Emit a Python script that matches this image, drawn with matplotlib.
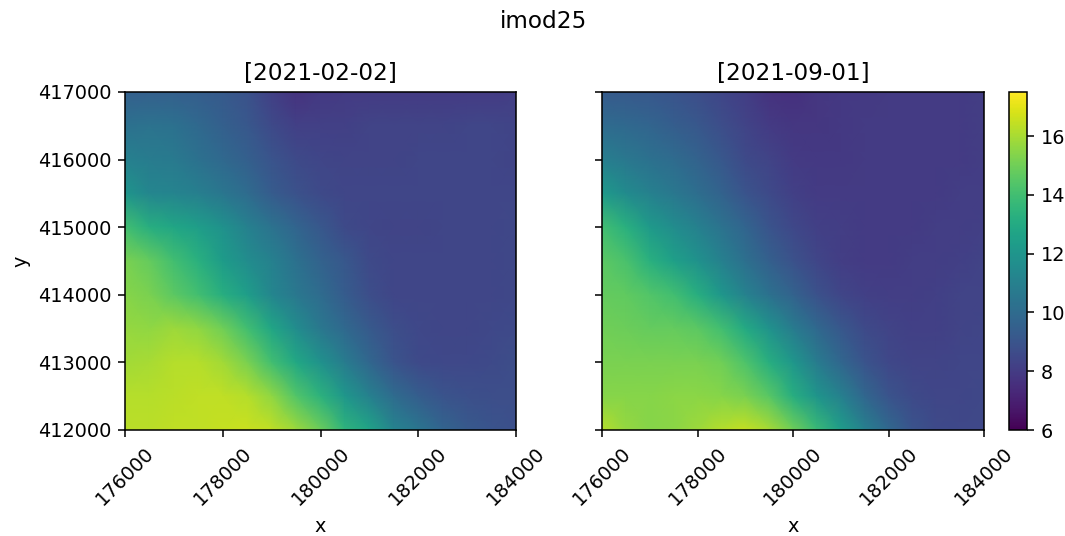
import numpy as np
from matplotlib import pyplot as plt

title = 'imod25'
dates = ['[2021-02-02]', '[2021-09-01]']
x = [176000, 176500, 177000, 177500, 178000, 178500, 179000, 179500, 180000,
     180500, 181000, 181500, 182000, 182500, 183000, 183500, 184000]
y = [417000, 416500, 416000, 415500, 415000, 414500, 414000, 413500, 413000, 412500, 412000]
xticks = [176000, 178000, 180000, 182000, 184000]
yticks = [412000, 413000, 414000, 415000, 416000, 417000]
cticks = [6, 8, 10, 12, 14, 16]

# values, top row first
left = [
    [9.5, 9.5, 9.5, 9.4, 9.2, 8.9, 8.2, 7.7, 7.9, 8.0, 8.0, 8.0, 8.0, 8.0, 8.0, 8.0, 8.1],
    [10.3, 10.4, 10.3, 9.9, 9.5, 9.1, 8.6, 8.2, 8.2, 8.2, 8.3, 8.3, 8.3, 8.3, 8.4, 8.4, 8.3],
    [11.0, 10.8, 10.7, 10.3, 9.9, 9.5, 9.0, 8.6, 8.4, 8.3, 8.3, 8.3, 8.4, 8.4, 8.4, 8.4, 8.3],
    [12.0, 11.3, 11.2, 10.9, 10.5, 10.0, 9.3, 8.9, 8.6, 8.4, 8.4, 8.4, 8.4, 8.4, 8.4, 8.4, 8.4],
    [14.0, 13.2, 12.8, 12.4, 11.8, 11.0, 10.4, 9.7, 9.1, 8.6, 8.4, 8.3, 8.3, 8.4, 8.4, 8.4, 8.5],
    [15.2, 14.8, 14.0, 13.3, 12.3, 11.6, 11.0, 10.3, 9.6, 9.1, 8.6, 8.4, 8.4, 8.4, 8.4, 8.4, 8.5],
    [15.4, 15.2, 14.6, 14.0, 13.2, 12.4, 11.3, 10.6, 10.0, 9.3, 8.7, 8.4, 8.4, 8.4, 8.4, 8.4, 8.5],
    [15.7, 15.6, 15.8, 15.6, 15.0, 14.0, 12.8, 11.6, 10.6, 9.9, 9.2, 8.7, 8.5, 8.4, 8.4, 8.5, 8.6],
    [15.9, 16.0, 16.2, 16.2, 15.9, 15.2, 14.0, 12.9, 11.8, 10.8, 9.8, 9.0, 8.6, 8.5, 8.5, 8.6, 8.7],
    [16.2, 16.2, 16.3, 16.4, 16.4, 16.2, 15.6, 14.4, 13.4, 12.1, 11.0, 10.0, 9.4, 9.0, 8.8, 8.7, 8.7],
    [16.3, 16.3, 16.4, 16.4, 16.5, 16.6, 16.4, 15.8, 14.9, 13.5, 12.7, 11.2, 10.5, 9.7, 9.2, 9.0, 8.8],
]
right = [
    [9.3, 9.2, 9.1, 9.0, 8.7, 8.4, 8.1, 7.7, 7.6, 7.8, 7.9, 7.9, 8.0, 8.0, 8.0, 8.0, 8.1],
    [10.0, 9.9, 9.7, 9.4, 9.1, 8.7, 8.3, 8.0, 7.8, 7.8, 7.9, 8.0, 8.0, 8.0, 8.0, 8.0, 8.1],
    [10.9, 10.6, 10.3, 10.0, 9.6, 9.1, 8.6, 8.3, 8.0, 7.9, 7.9, 8.0, 8.0, 8.0, 8.0, 8.0, 8.1],
    [12.2, 11.5, 11.0, 10.6, 10.1, 9.6, 9.0, 8.6, 8.2, 8.0, 8.0, 8.0, 8.0, 8.0, 8.0, 8.1, 8.1],
    [14.0, 13.3, 12.2, 11.6, 11.0, 10.4, 9.7, 9.0, 8.5, 8.2, 8.1, 8.0, 8.0, 8.0, 8.1, 8.1, 8.2],
    [14.6, 14.2, 13.3, 12.5, 11.8, 11.0, 10.2, 9.5, 8.9, 8.4, 8.1, 8.0, 8.0, 8.1, 8.1, 8.2, 8.3],
    [14.8, 14.7, 14.4, 14.0, 13.2, 12.1, 11.1, 10.3, 9.6, 8.9, 8.4, 8.2, 8.1, 8.1, 8.2, 8.3, 8.3],
    [15.0, 14.9, 14.8, 14.8, 14.6, 14.0, 13.0, 11.9, 10.8, 9.9, 9.1, 8.6, 8.3, 8.2, 8.2, 8.3, 8.4],
    [15.2, 15.2, 15.2, 15.2, 15.2, 15.0, 14.3, 13.2, 12.1, 10.8, 9.8, 9.0, 8.5, 8.3, 8.3, 8.4, 8.4],
    [15.4, 15.4, 15.4, 15.5, 15.5, 15.4, 15.2, 14.5, 13.2, 12.0, 11.0, 9.8, 9.0, 8.6, 8.4, 8.4, 8.5],
    [16.2, 15.7, 15.4, 15.5, 15.8, 16.2, 16.5, 16.0, 15.0, 13.8, 12.4, 11.0, 9.9, 9.0, 8.6, 8.5, 8.5],
]

dpi = 139
fig = plt.figure(figsize=(1065 / dpi, 536 / dpi), dpi=dpi)
ax1 = fig.add_axes([125 / 1065, 1 - 430 / 536, 391 / 1065, 338 / 536])
ax2 = fig.add_axes([602 / 1065, 1 - 430 / 536, 382 / 1065, 338 / 536])
cax = fig.add_axes([1009 / 1065, 1 - 430 / 536, 18 / 1065, 338 / 536])

for ax, values, date in zip([ax1, ax2], [left, right], dates):
    mesh = ax.pcolormesh(x, y, np.array(values), shading='gouraud',
                         cmap='viridis', vmin=6, vmax=17.5)
    ax.set_title(date)
    ax.set_xlabel('x')
    ax.set_xticks(xticks)
    ax.set_yticks(yticks)
    ax.tick_params(axis='x', labelrotation=45)

ax1.set_ylabel('y')
ax2.set_yticklabels([])

cbar = fig.colorbar(mesh, cax=cax)
cbar.set_ticks(cticks)

fig.text(543 / 1065, 1 - 21 / 536, title, ha='center', va='center', fontsize=12)

plt.savefig('out.png', dpi=dpi)
